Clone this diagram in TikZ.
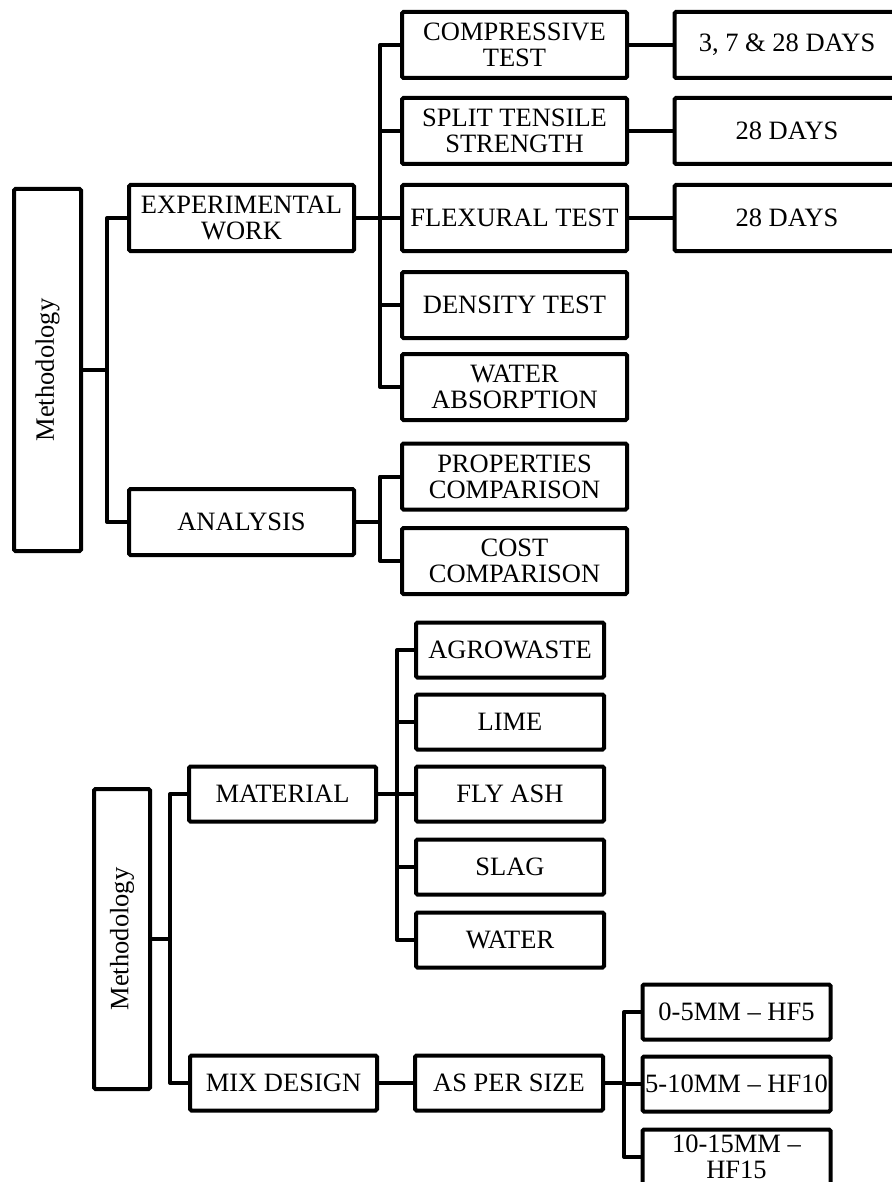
\documentclass[tikz,border=0pt]{standalone}
\usepackage{fontspec}
\setmainfont{Liberation Serif}
\usepackage{tikz}
\usetikzlibrary{positioning,calc}

\begin{document}
\begin{tikzpicture}[x=1pt, y=-1pt,
    every node/.style={font=\fontsize{26.5}{26}\selectfont},
    box/.style={draw, line width=4pt, rounded corners=1.5pt, align=center, inner sep=0pt},
    bigbox/.style={box, minimum width=225pt, minimum height=66pt},
    smallbox/.style={box, minimum width=188pt, minimum height=55pt},
    link/.style={line width=4pt, line join=round}]
        \useasboundingbox (0,0) rectangle (891,1182);
        % upper tree
        \node[box, minimum width=67pt, minimum height=362pt] (meth1) at (47.5,370) {\rotatebox{90}{Methodology}};
        \node[bigbox] (exp) at (241.5,218) {EXPERIMENTAL\\WORK};
        \node[bigbox] (ana) at (241.5,522) {ANALYSIS};
        \node[bigbox] (comp) at (514.5,45) {COMPRESSIVE\\TEST};
        \node[bigbox] (split) at (514.5,131) {SPLIT TENSILE\\STRENGTH};
        \node[bigbox] (flex) at (514.5,218) {FLEXURAL TEST};
        \node[bigbox] (dens) at (514.5,305) {DENSITY TEST};
        \node[bigbox] (wabs) at (514.5,387) {WATER\\ABSORPTION};
        \node[bigbox] (props) at (514.5,476.5) {PROPERTIES\\COMPARISON};
        \node[bigbox] (cost) at (514.5,561) {COST\\COMPARISON};
        \node[bigbox] (dthree) at (787,45) {3, 7 \& 28 DAYS};
        \node[bigbox] (dsplit) at (787,131) {28 DAYS};
        \node[bigbox] (dflex) at (787,218) {28 DAYS};
        \foreach \n in {exp,ana} \draw[link] (meth1.east) -- ++(24,0) |- (\n.west);
        \foreach \n in {comp,split,flex,dens,wabs} \draw[link] (exp.east) -- ++(24,0) |- (\n.west);
        \foreach \n in {props,cost} \draw[link] (ana.east) -- ++(24,0) |- (\n.west);
        \draw[link] (comp) -- (dthree);
        \draw[link] (split) -- (dsplit);
        \draw[link] (flex) -- (dflex);
        % lower tree
        \node[box, minimum width=56pt, minimum height=300pt] (meth2) at (122,939) {\rotatebox{90}{Methodology}};
        \node[smallbox, minimum width=187pt] (mat) at (282.5,794) {MATERIAL};
        \node[smallbox, minimum width=187pt] (mix) at (283.5,1083) {MIX DESIGN};
        \node[smallbox] (agro) at (510,650) {AGROWASTE};
        \node[smallbox] (lime) at (510,722) {LIME};
        \node[smallbox] (fly) at (510,794) {FLY ASH};
        \node[smallbox] (slag) at (510,867) {SLAG};
        \node[smallbox] (wat) at (510,940) {WATER};
        \node[smallbox] (aps) at (509,1083) {AS PER SIZE};
        \node[smallbox] (sfive) at (736.5,1012) {0-5MM -- HF5};
        \node[smallbox] (sten) at (736.5,1084) {5-10MM -- HF10};
        \node[smallbox] (sfifteen) at (736.5,1157) {10-15MM --\\HF15};
        \foreach \n in {mat,mix} \draw[link] (meth2.east) -- ++(18,0) |- (\n.west);
        \foreach \n in {agro,lime,fly,slag,wat} \draw[link] (mat.east) -- ++(19,0) |- (\n.west);
        \draw[link] (mix) -- (aps);
        \foreach \n in {sfive,sten,sfifteen} \draw[link] (aps.east) -- ++(19,0) |- (\n.west);
\end{tikzpicture}
\end{document}
